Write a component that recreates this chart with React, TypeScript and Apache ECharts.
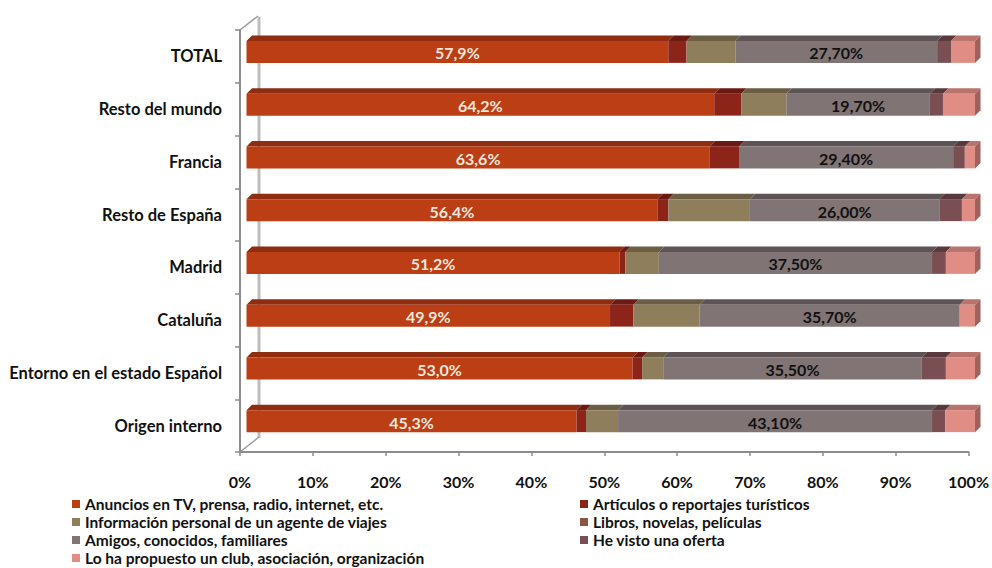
import React, { useEffect, useRef } from "react";
import * as echarts from "echarts";

const categories = [
  "TOTAL",
  "Resto del mundo",
  "Francia",
  "Resto de España",
  "Madrid",
  "Cataluña",
  "Entorno en el estado Español",
  "Origen interno",
];

const anuncios = [57.9, 64.2, 63.6, 56.4, 51.2, 49.9, 53.0, 45.3];
const articulos = [2.5, 3.7, 4.0, 1.5, 0.8, 3.2, 1.3, 1.3];
const informacion = [6.7, 6.2, 0, 11.2, 4.6, 9.1, 2.9, 4.4];
const libros = [0, 0, 0, 0, 0, 0, 0, 0];
const amigos = [27.7, 19.7, 29.4, 26.0, 37.5, 35.7, 35.5, 43.1];
const heVisto = [1.9, 1.8, 1.6, 3.1, 1.9, 0, 3.3, 1.8];
const club = [3.3, 4.4, 1.4, 1.8, 4.0, 2.1, 4.0, 4.1];

const seriesNames = [
  "Anuncios en TV, prensa, radio, internet, etc.",
  "Artículos o reportajes turísticos",
  "Información personal de un agente de viajes",
  "Libros, novelas, películas",
  "Amigos, conocidos, familiares",
  "He visto una oferta",
  "Lo ha propuesto un club, asociación, organización",
];

const xTicks = [0, 10, 20, 30, 40, 50, 60, 70, 80, 90, 100];

const FONT = "Lato, 'Open Sans', sans-serif";

const App: React.FC = () => {
  const ref = useRef<HTMLDivElement>(null);

  useEffect(() => {
    if (!ref.current) return;
    const chart = echarts.init(ref.current, undefined, { renderer: "svg" });

    const values = [anuncios, articulos, informacion, libros, amigos, heVisto, club];
    const faceColors = ["#BC3E14", "#8C241A", "#8F7E5C", "#8C5647", "#807474", "#7A4F54", "#E08D85"];
    const topColors = ["#8E2D10", "#6B1A13", "#6C5E44", "#6A4036", "#5E5456", "#5A393D", "#B8736C"];
    const sideColor = "#A0605C";

    const cum = categories.map(() => 0);
    const series: any[] = values.map((arr, si) => {
      const data = arr.map((v, i) => {
        const s = cum[i];
        cum[i] += v;
        return [i, s, s + v, v];
      });
      return {
        type: "custom",
        name: seriesNames[si],
        coordinateSystem: "cartesian2d",
        encode: { x: [1, 2], y: 0 },
        itemStyle: { color: faceColors[si] },
        data,
        renderItem: (params: any, api: any) => {
          const v = api.value(3);
          if (!v) return null;
          const p0 = api.coord([api.value(1), api.value(0)]);
          const p1 = api.coord([api.value(2), api.value(0)]);
          const dx = 6.5;
          const x0 = p0[0] + dx;
          const x1 = p1[0] + dx;
          const top = p0[1] - 15.5;
          const h = 22;
          const d = 5.5;
          const children: any[] = [
            {
              type: "polygon",
              shape: { points: [[x0, top], [x1, top], [x1 + d, top - d], [x0 + d, top - d]] },
              style: { fill: topColors[si] },
            },
            {
              type: "rect",
              shape: { x: x0, y: top, width: x1 - x0, height: h },
              style: { fill: faceColors[si] },
            },
          ];
          if (si === values.length - 1) {
            children.push({
              type: "polygon",
              shape: { points: [[x1, top], [x1 + d, top - d], [x1 + d, top + h - d], [x1, top + h]] },
              style: { fill: sideColor },
            });
          }
          if (si === 0 || si === 4) {
            const txt = si === 0 ? v.toFixed(1) : v.toFixed(2);
            children.push({
              type: "text",
              style: {
                text: txt.replace(".", ",") + "%",
                x: (x0 + x1) / 2,
                y: top + h / 2 + 1,
                align: "center",
                verticalAlign: "middle",
                fill: si === 0 ? "#F3E6DC" : "#111111",
                fontSize: 16,
                fontWeight: "bold",
                fontFamily: FONT,
              },
            });
          }
          return { type: "group", children };
        },
      };
    });

    const legendText = { fontSize: 15.5, fontWeight: "bold", fontFamily: FONT, color: "#111" };
    const legendPos = [
      [72, 504],
      [580, 504],
      [72, 522],
      [580, 522],
      [72, 540],
      [580, 540],
      [72, 558],
    ];
    const legends = seriesNames.map((n, i) => ({
      orient: "horizontal",
      left: legendPos[i][0],
      top: legendPos[i][1] - 8,
      itemWidth: 8,
      itemHeight: 8,
      itemGap: 0,
      padding: 0,
      icon: "rect",
      selectedMode: false,
      textStyle: { ...legendText, lineHeight: 16, padding: [0, 0, 0, 0] },
      data: [n],
    }));

    chart.setOption({
      animation: false,
      color: faceColors,
      grid: { left: 240, right: 23, top: 30, bottom: 116 },
      xAxis: {
        type: "value",
        min: 0,
        max: 100,
        interval: 10,
        axisLine: { show: true, lineStyle: { color: "#8C8C8C", width: 2 } },
        axisTick: { show: true, length: 4, lineStyle: { color: "#8C8C8C", width: 1.5 } },
        splitLine: { show: false },
        axisLabel: {
          formatter: (val: number) => (xTicks.includes(val) ? val + "%" : ""),
          margin: 21,
          fontSize: 16,
          fontWeight: "bold",
          fontFamily: FONT,
          color: "#111",
        },
      },
      yAxis: {
        type: "category",
        data: categories,
        inverse: true,
        axisLine: { show: true, lineStyle: { color: "#8C8C8C", width: 2 } },
        axisTick: { show: true, length: 5, lineStyle: { color: "#8C8C8C", width: 1.5 } },
        axisLabel: {
          margin: 18,
          fontSize: 16.5,
          fontWeight: "bold",
          fontFamily: FONT,
          color: "#111",
        },
      },
      legend: legends,
      graphic: [
        { type: "line", z: -1, shape: { x1: 259, y1: 17, x2: 259, y2: 438 }, style: { stroke: "#BDBDBD", lineWidth: 3 } },
        { type: "line", z: -1, shape: { x1: 240, y1: 30, x2: 258, y2: 16 }, style: { stroke: "#9A9A9A", lineWidth: 1.5 } },
        { type: "line", z: -1, shape: { x1: 240, y1: 452, x2: 259, y2: 437 }, style: { stroke: "#9A9A9A", lineWidth: 1.5 } },
      ],
      series,
    });

    return () => chart.dispose();
  }, []);

  return <div ref={ref} style={{ position: "absolute", left: 0, top: 0, width: 992, height: 568 }} />;
};

export default App;
